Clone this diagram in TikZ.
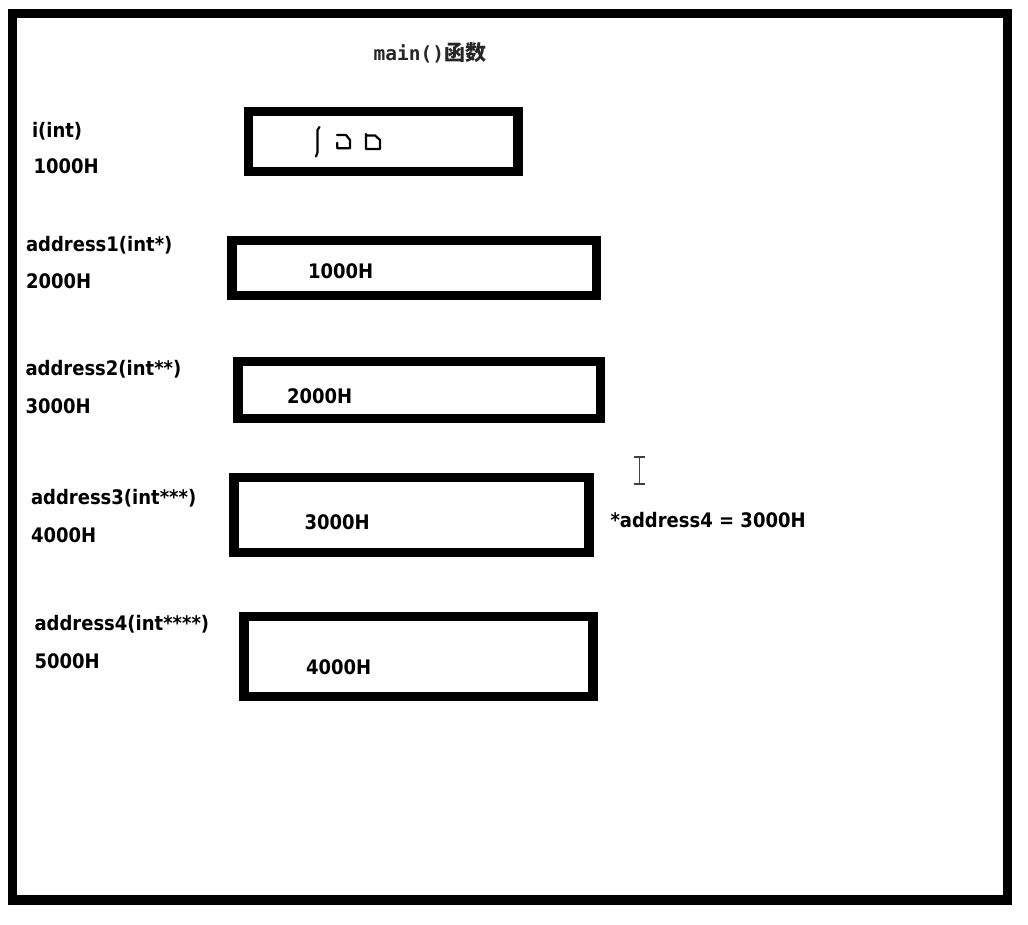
\documentclass[tikz,border=0pt]{standalone}
\usepackage{fontspec}
\newfontfamily\labfont{DejaVu Sans}[FakeStretch=0.9]
\newfontfamily\monofont{DejaVu Sans Mono}
\newfontfamily\cjkfont{Noto Sans CJK SC}
\begin{document}
\begin{tikzpicture}[x=1pt,y=-1pt,
  frame/.style={draw=black,line width=9.5pt,rectangle,inner sep=0pt,outer sep=0pt},
  membox/.style={draw=black,line width=9.3pt,rectangle,inner sep=0pt,outer sep=0pt},
  lab/.style={anchor=base west,inner sep=0pt,outer sep=0pt,font=\labfont\bfseries\fontsize{20}{24}\selectfont,text=black},
  glyph/.style={draw=black,line width=2.2pt,line join=round,line cap=round},
  cursor/.style={draw=black!75,line width=1.4pt}
]
\useasboundingbox (0,0) rectangle (1028,925);
\fill[white] (0,0) rectangle (1028,925);

% outer frame
\node[frame,minimum width=995pt,minimum height=886.5pt] (frame) at (510,456.75) {};

% title
\node[anchor=base west,inner sep=0pt,text=black!85] (title) at (373.5,60.7)
  {{\monofont\bfseries\fontsize{19.5}{23}\selectfont main()}{\cjkfont\bfseries\fontsize{21}{24}\selectfont 函数}};

% memory boxes
\node[membox,minimum width=269.3pt,minimum height=60pt] (bi) at (383.35,141.3) {};
\node[membox,minimum width=364.7pt,minimum height=54.6pt] (b1) at (414.35,268) {};
\node[membox,minimum width=362.8pt,minimum height=57.5pt] (b2) at (419.4,390) {};
\node[membox,minimum width=355pt,minimum height=75.2pt] (b3) at (411.5,514.9) {};
\node[membox,minimum width=349pt,minimum height=80.2pt] (b4) at (418.5,656.6) {};

% garbled content of box i
\draw[glyph] (319.5,127) -- (317.5,130) -- (317.5,152.5) -- (316,156.5);
\draw[glyph] (337,135) -- (346,135) -- (350,140) -- (350,148.3) -- (337.3,148.3) -- (337.3,142.7);
\draw[glyph] (366,134) -- (366,149) -- (380,149) -- (380,140) -- (375,135.5) -- (366,135.5);

% left labels
\node[lab] (li)  at (32,138)   {i(int)};
\node[lab] (ai)  at (33.5,174) {1000H};
\node[lab] (l1)  at (26,251.3) {address1(int*)};
\node[lab] (a1)  at (26,289)   {2000H};
\node[lab] (l2)  at (25.5,375.6) {address2(int**)};
\node[lab] (a2)  at (25.5,413) {3000H};
\node[lab] (l3)  at (31,504.6) {address3(int***)};
\node[lab] (a3)  at (31,542.3) {4000H};
\node[lab] (l4)  at (34.5,630.6) {address4(int****)};
\node[lab] (a4)  at (34.5,668) {5000H};

% values in boxes
\node[lab] (v1) at (308,279)   {1000H};
\node[lab] (v2) at (287,403)   {2000H};
\node[lab] (v3) at (304.5,529.6) {3000H};
\node[lab] (v4) at (306,674)   {4000H};

% note
\node[lab] (note) at (610.5,527.3) {*address4 = 3000H};

% text cursor
\draw[cursor] (633.5,457) -- (645,457) (639.3,457) -- (639.3,484) (633.5,484) -- (645,484);
\end{tikzpicture}
\end{document}
